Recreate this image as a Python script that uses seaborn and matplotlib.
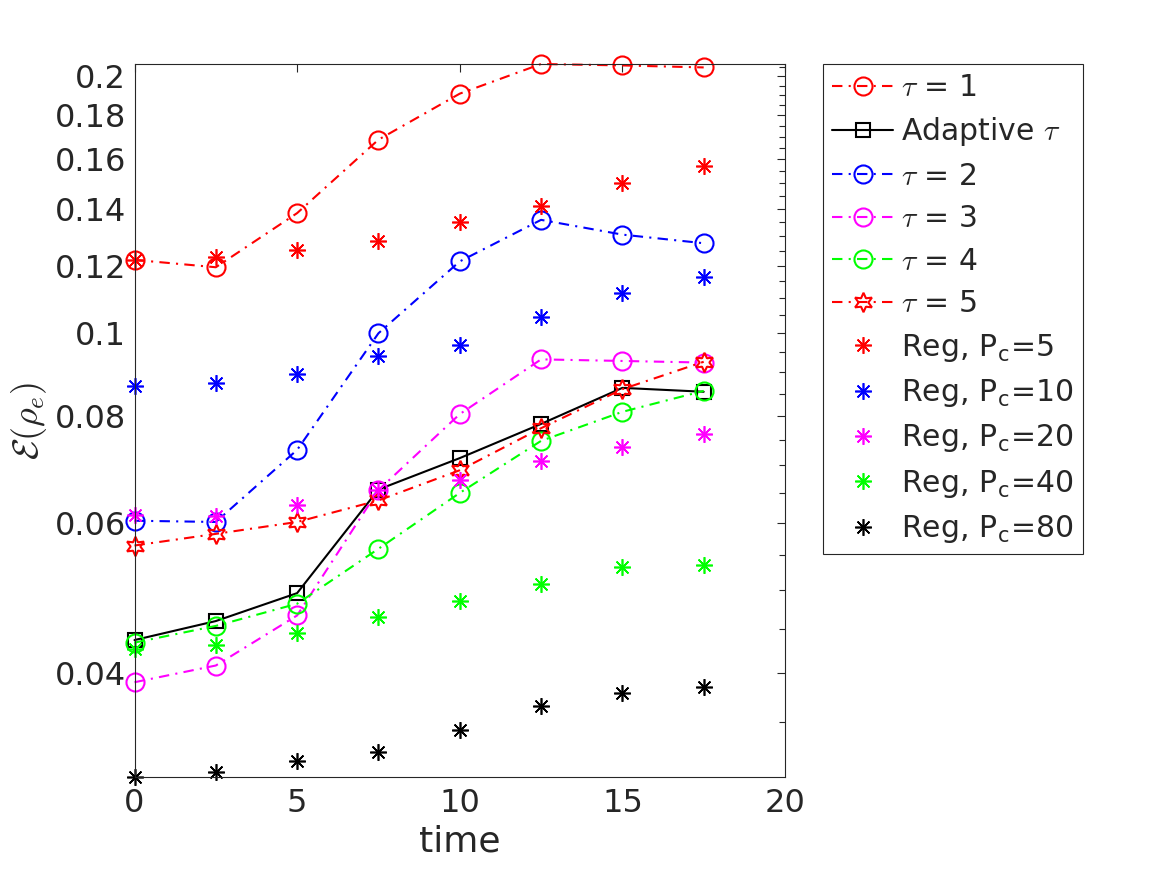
import numpy as np
import matplotlib
matplotlib.use("Agg")
import matplotlib.pyplot as plt
import matplotlib.ticker as mticker
import seaborn as sns

# ---------------- data ----------------
time = [0, 2.5, 5, 7.5, 10, 12.5, 15, 17.5]
tau1 = [0.1219, 0.1195, 0.1383, 0.1686, 0.1909, 0.2068, 0.2060, 0.2049]
adaptive = [0.0437, 0.0460, 0.0496, 0.0656, 0.0714, 0.0783, 0.0863, 0.0854]
tau2 = [0.0603, 0.0601, 0.0730, 0.1000, 0.1214, 0.1358, 0.1305, 0.1275]
tau3 = [0.0390, 0.0408, 0.0467, 0.0655, 0.0804, 0.0932, 0.0928, 0.0924]
tau4 = [0.0434, 0.0454, 0.0482, 0.0559, 0.0650, 0.0748, 0.0809, 0.0856]
tau5 = [0.0564, 0.0582, 0.0601, 0.0637, 0.0691, 0.0774, 0.0860, 0.0926]
reg5 = [0.1217, 0.1230, 0.1252, 0.1284, 0.1352, 0.1408, 0.1500, 0.1572]
reg10 = [0.0868, 0.0875, 0.0896, 0.0940, 0.0969, 0.1046, 0.1114, 0.1163]
reg20 = [0.0612, 0.0610, 0.0629, 0.0655, 0.0673, 0.0709, 0.0735, 0.0762]
reg40 = [0.0427, 0.0431, 0.0445, 0.0465, 0.0485, 0.0508, 0.0532, 0.0535]
reg80 = [0.0302, 0.0306, 0.0315, 0.0323, 0.0343, 0.0366, 0.0379, 0.0385]

yticks = [0.04, 0.06, 0.08, 0.1, 0.12, 0.14, 0.16, 0.18, 0.2]
ytick_labels = ["0.04", "0.06", "0.08", "0.1", "0.12", "0.14", "0.16", "0.18", "0.2"]
xticks = [0, 5, 10, 15, 20]

labels_lines = [r"$\tau$ = 1", r"Adaptive $\tau$", r"$\tau$ = 2", r"$\tau$ = 3",
                r"$\tau$ = 4", r"$\tau$ = 5"]
labels_reg = [r"Reg, P$_{\mathregular{c}}$=5", r"Reg, P$_{\mathregular{c}}$=10",
              r"Reg, P$_{\mathregular{c}}$=20", r"Reg, P$_{\mathregular{c}}$=40",
              r"Reg, P$_{\mathregular{c}}$=80"]

# ---------------- style ----------------
sns.set_style("white")
plt.rcParams["font.family"] = ["DejaVu Sans"]
plt.rcParams["mathtext.fontset"] = "cm"
dark = (0.15, 0.15, 0.15)

fig = plt.figure(figsize=(11.67, 8.75), dpi=100)
ax = fig.add_axes([134.5 / 1167, 1 - 777 / 875, (785 - 134.5) / 1167, (777 - 64) / 875])

dashdot = (0, (5, 3, 1, 3))
lw = 1.5

line_series = [
    (tau1, "red", "o", dashdot, 13),
    (adaptive, "black", "s", "-", 9.5),
    (tau2, "blue", "o", dashdot, 13),
    (tau3, "magenta", "o", dashdot, 13),
    (tau4, "lime", "o", dashdot, 13),
    (tau5, "red", (6, 1, 0), dashdot, 14),
]
for (vals, col, mk, ls, ms), lab in zip(line_series, labels_lines):
    sns.lineplot(x=time, y=vals, ax=ax, color=col, marker=mk, linestyle=ls,
                 linewidth=lw, markersize=ms, markerfacecolor="none",
                 markeredgecolor=col, markeredgewidth=1.5, label=lab,
                 estimator=None, clip_on=False, legend=False)

reg_series = [(reg5, "red"), (reg10, "blue"), (reg20, "magenta"),
              (reg40, "lime"), (reg80, "black")]
for (vals, col), lab in zip(reg_series, labels_reg):
    sns.lineplot(x=time, y=vals, ax=ax, color=col, marker=(8, 2, 0),
                 linestyle="none", markersize=12, markeredgecolor=col,
                 markeredgewidth=1.2, label=lab, estimator=None,
                 clip_on=False, legend=False)

all_vals = tau1 + adaptive + tau2 + tau3 + tau4 + tau5 + reg5 + reg10 + reg20 + reg40 + reg80
ax.set_yscale("log")
ax.set_ylim(min(all_vals), max(all_vals))
ax.set_xlim(0, 20)

ax.yaxis.set_major_locator(mticker.FixedLocator(yticks))
ax.yaxis.set_major_formatter(mticker.FixedFormatter(ytick_labels))
minor = [v for v in np.arange(0.03, 0.2101, 0.005)
         if all(abs(v - t) > 1e-6 for t in yticks)]
ax.yaxis.set_minor_locator(mticker.FixedLocator(minor))
ax.yaxis.set_minor_formatter(mticker.NullFormatter())
ax.set_xticks(xticks)
ax.xaxis.set_minor_locator(mticker.NullLocator())

ax.tick_params(axis="both", which="both", direction="in", top=True, right=True,
               colors=dark, labelsize=23, width=0.8)
ax.tick_params(axis="both", which="major", length=6)
ax.tick_params(axis="y", which="minor", length=4)
ax.tick_params(axis="x", which="major", pad=8)
ax.tick_params(axis="y", which="major", pad=6)
for sp in ax.spines.values():
    sp.set_color(dark)
    sp.set_linewidth(0.8)
    sp.set_visible(True)

ax.set_xlabel("time", fontsize=26, color=dark, labelpad=4)
ax.set_ylabel(r"$\mathcal{E}(\rho_e)$", fontsize=26, color=dark, labelpad=4)

handles, labels = ax.get_legend_handles_labels()
leg = ax.legend(handles, labels, loc="upper left",
                bbox_to_anchor=((823 - 134.5) / 650.5, 1.0), borderaxespad=0,
                fontsize=21.5, frameon=True, fancybox=False, framealpha=1,
                edgecolor=dark, handlelength=2.05, handletextpad=0.25,
                labelspacing=0.45, borderpad=0.3, numpoints=1)
leg.get_frame().set_linewidth(0.8)

fig.savefig("out.png", dpi=100)
